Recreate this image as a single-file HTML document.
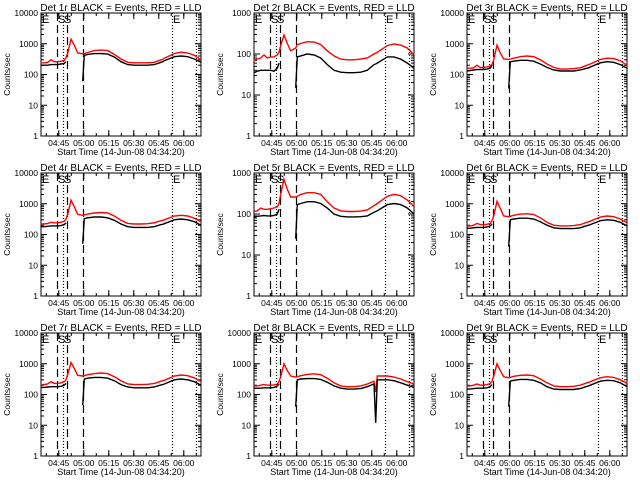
<!DOCTYPE html>
<html><head><meta charset="utf-8"><style>
html,body{margin:0;padding:0;background:#fff;}
svg{display:block;font-family:"Liberation Sans",sans-serif;}
</style></head><body>
<svg id="chart" width="640" height="480" viewBox="0 0 640 480" xmlns="http://www.w3.org/2000/svg"></svg>
<script>
// minutes since 04:34:20
const times = [0,2,4,6,8,10,12,14,15,16,18,20,22,25,26,28,32,36,40,44,48,52,56,60,64,68,72,73,74,80,84,88,92,96];
const N = null;
const detNames = ["1r","2r","3r","4r","5r","6r","7r","8r","9r"];
const decades = [4,3,4,4,3,4,4,4,4];
const red1=[240,240,250,300,260,260,270,290,350,500,1400,900,500, 470,480,520,600,620,600,450,320,250,240,240,240,250,300, 310, 340,480,530,500,420,300];
const black1=[200,200,200,210,210,210,220,230,260,N,N,N,N, 60,420,450,480,480,460,370,260,210,200,200,200,210,250, 260, 280,380,400,380,320,250];
const red2=[70,75,80,95,80,85,85,95,110,160,290,180,120, 140,170,180,200,195,170,120,90,75,72,72,75,80,100, 105, 110,160,175,165,140,95];
const black2=[35,38,40,40,40,40,38,45,60,N,N,N,N, 15,85,90,100,95,80,55,40,36,35,35,36,40,55, 57, 60,85,85,75,60,45];
const red3=[160,160,165,200,170,170,175,190,210,300,900,500,320, 310,320,340,380,400,380,300,220,170,150,150,155,165,200, 210, 220,310,340,330,280,200];
const black3=[130,135,140,145,145,145,150,160,200,N,N,N,N, 35,260,270,290,290,270,220,170,140,130,130,130,140,160, 165, 175,240,260,250,210,160];
const red4=[220,220,230,250,240,240,250,270,320,450,1300,800,450, 420,430,460,500,520,500,400,290,230,220,220,225,240,280, 290, 300,400,420,400,340,260];
const black4=[180,180,185,190,190,190,195,210,240,N,N,N,N, 50,330,350,370,370,350,290,220,180,170,170,170,180,210, 215, 225,300,320,300,260,200];
const red5=[115,120,140,130,130,135,140,150,180,300,700,400,260, 260,270,300,330,330,300,200,140,120,115,115,118,125,160, 170, 180,270,300,280,220,150];
const black5=[85,88,90,92,90,90,92,100,130,N,N,N,N, 25,170,180,200,200,180,140,100,88,85,85,86,90,110, 115, 120,170,180,170,140,100];
const red6=[190,190,200,230,210,210,215,230,280,400,1200,700,400, 380,390,420,460,470,450,350,250,200,190,190,195,210,250, 260, 270,370,400,380,320,240];
const black6=[160,160,165,170,170,170,175,190,220,N,N,N,N, 40,300,320,340,340,320,260,200,165,155,155,155,165,195, 200, 210,280,300,290,250,190];
const red7=[210,210,220,260,230,230,240,260,300,450,1100,700,420, 400,410,440,480,500,480,380,280,220,210,210,215,230,270, 280, 290,400,430,410,350,260];
const black7=[170,170,175,180,180,180,185,200,230,N,N,N,N, 45,320,340,360,360,340,280,210,175,165,165,165,175,205, 210, 220,300,320,300,260,200];
const red8=[190,190,200,210,200,200,205,220,260,380,1000,600,400, 370,380,410,450,470,440,340,240,190,180,180,190,220,270, 120, 400,400,370,320,260,220];
const black8=[160,160,160,165,165,165,170,190,220,N,N,N,N, 40,300,320,330,330,310,250,190,160,150,150,155,180,220, 12, 300,300,280,240,200,170];
const red9=[190,190,200,220,200,200,210,230,270,400,1000,600,380, 350,360,390,420,430,410,320,240,190,180,180,185,200,240, 250, 260,350,380,360,300,230];
const black9=[150,150,155,160,160,160,165,180,210,N,N,N,N, 40,270,290,310,310,290,240,180,150,145,145,145,155,185, 190, 200,270,290,280,240,180];
const redSeries=[red1,red2,red3,red4,red5,red6,red7,red8,red9];
const blackSeries=[black1,black2,black3,black4,black5,black6,black7,black8,black9];
const xTickLabels=["04:45","05:00","05:15","05:30","05:45","06:00"];
const xTickMinutes=[10.667,25.667,40.667,55.667,70.667,85.667];
const markerMinutes=[9.6,13.2,15.6,25.2,78.6,93];
const markerStyles=["dash","dot","dash","dash","dot","dot"];

const svg=document.getElementById('chart');
const NS="http://www.w3.org/2000/svg";
function mk(tag,attrs,parent){const e=document.createElementNS(NS,tag);for(const k in attrs)e.setAttribute(k,attrs[k]);(parent||svg).appendChild(e);return e;}
const lefts=[41,254,467], tops=[13,173,333], W=160, H=123, TMAX=96;

for(let p=0;p<9;p++){
  const L=lefts[p%3], T=tops[Math.floor(p/3)], B=T+H, R=L+W, D=decades[p];
  const g=mk('g',{});
  
  
  const xs=m=>L+m/TMAX*W;
  const ys=v=>B-Math.log10(Math.max(v,1))/D*H;
  const t=mk('text',{x:L+W/2,y:T-2,'text-anchor':'middle','font-size':'10'},g);
  t.textContent='Det '+detNames[p]+' BLACK = Events, RED = LLD';
  
  
  const box=mk('rect',{x:L,y:T,width:W,height:H,fill:'none',stroke:'#000','stroke-width':1},g);
  
  
  for(let d=0;d<=D;d++){
    const y=ys(Math.pow(10,d));
    mk('line',{x1:L,x2:L+6,y1:y,y2:y,stroke:'#000'},g);
    mk('line',{x1:R,x2:R-6,y1:y,y2:y,stroke:'#000'},g);
    const lb=mk('text',{x:L-3,y:y+3,'text-anchor':'end','font-size':'8.5'},g);
    lb.textContent=String(Math.pow(10,d));
    
    
    if(d<D){for(let k=2;k<10;k++){const yy=ys(k*Math.pow(10,d));
      mk('line',{x1:L,x2:L+3,y1:yy,y2:yy,stroke:'#000'},g);
      mk('line',{x1:R,x2:R-3,y1:yy,y2:yy,stroke:'#000'},g);}}
  }
  const yl=mk('text',{x:0,y:0,'text-anchor':'middle','font-size':'8.5',transform:'translate('+(L-31)+','+(T+H/2)+') rotate(-90)'},g);
  yl.textContent='Counts/sec';
  
  
  xTickMinutes.forEach((m,i)=>{
    const x=xs(m);
    mk('line',{x1:x,x2:x,y1:B,y2:B-6,stroke:'#000'},g);
    mk('line',{x1:x,x2:x,y1:T,y2:T+6,stroke:'#000'},g);
    const lb=mk('text',{x:x,y:B+10,'text-anchor':'middle','font-size':'8.5'},g);
    lb.textContent=xTickLabels[i];
    
    
  });
  for(let m=3.167;m<TMAX;m+=7.5){const x=xs(m);mk('line',{x1:x,x2:x,y1:B,y2:B-3,stroke:'#000'},g);mk('line',{x1:x,x2:x,y1:T,y2:T+3,stroke:'#000'},g);}
  const xl=mk('text',{x:L+W/2,y:B+19,'text-anchor':'middle','font-size':'9'},g);
  xl.textContent='Start Time (14-Jun-08 04:34:20)';
  
  
  markerMinutes.forEach((m,i)=>{
    const x=Math.round(xs(m))+0.5;
    const ln=mk('line',{x1:x,x2:x,y1:T,y2:B,stroke:'#000','stroke-width':1.2,'stroke-dasharray':markerStyles[i]==='dash'?'8,4':'1,2'},g);
    
    
  });
  [['E',-1],['S',0],['S',1],['E',4]].forEach((e)=>{
    const x=e[1]<0?L+1:xs(markerMinutes[e[1]])+1;
    const tx=mk('text',{x:x,y:T+10,'font-size':'11'},g);
    tx.textContent=e[0];
    
    
  });
  function path(vals){let d='',pen=false;vals.forEach((v,i)=>{if(v===null){pen=false;return;}d+=(pen?'L':'M')+xs(times[i]).toFixed(1)+','+ys(v).toFixed(1);pen=true;});return d;}
  const rp=mk('path',{d:path(redSeries[p]),fill:'none',stroke:'#ff0000','stroke-width':1.4},g);
  
  
  const bp=mk('path',{d:path(blackSeries[p]),fill:'none',stroke:'#000','stroke-width':1.4},g);
  
  
}
</script>
</body></html>
